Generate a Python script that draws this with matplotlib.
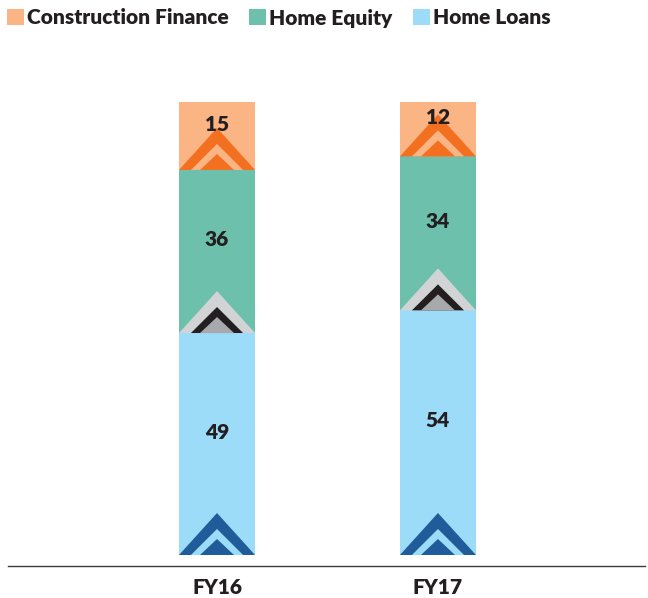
import matplotlib
matplotlib.use("Agg")
import matplotlib.pyplot as plt
from matplotlib.patches import Polygon, Patch
import numpy as np

# ---- data ----
periods = ["FY16", "FY17"]
series_names = ["Home Loans", "Home Equity", "Construction Finance"]
home_loans = [49, 54]
home_equity = [36, 34]
construction_finance = [15, 12]

# ---- style ----
bar_colors = ["#9ddcf9", "#6cc0ac", "#fbb584"]
# chevron colours (outer, middle, inner) per series
chev_colors = [
    ("#1f5c99", "#9ddcf9", "#1f5c99"),
    ("#d1d3d4", "#231f20", "#a7a9ac"),
    ("#f37021", "#fbb584", "#f37021"),
]
text_color = "#231f20"
plt.rcParams['font.family'] = ['Lato', 'DejaVu Sans']
FW = 'heavy'
FS = 15

fig = plt.figure(figsize=(6.48, 5.98), dpi=100)
ax = fig.add_axes([8/648, 32/598, 637/648, 464/598])

x = np.arange(len(periods))
width = 0.344
values = [home_loans, home_equity, construction_finance]
bottom = np.zeros(len(periods))

# chevron geometry (fractions of bar width / data units)
h_out, h_mid, h_in = 9.27, 5.74, 3.53
hw_out, hw_mid, hw_in = width / 2, 0.118, 0.077

for s, vals in enumerate(values):
    vals = np.array(vals, dtype=float)
    ax.bar(x, vals, width, bottom=bottom, color=bar_colors[s], linewidth=0, zorder=1)
    for i in range(len(periods)):
        b = bottom[i]
        cx = x[i]
        for (hw, h, col) in zip((hw_out, hw_mid, hw_in), (h_out, h_mid, h_in), chev_colors[s]):
            ax.add_patch(Polygon([(cx - hw, b), (cx, b + h), (cx + hw, b)],
                                 closed=True, facecolor=col, edgecolor='none', zorder=2))
        ax.text(cx, b + vals[i] / 2 + 2.6, f"{int(vals[i])}", ha='center', va='center',
                fontsize=FS, fontweight=FW, color=text_color, zorder=3)
    bottom += vals

ax.set_xlim(-0.946, 1.937)
ax.set_ylim(-2.43, 100)
ax.set_xticks(x)
ax.set_xticklabels(periods, fontsize=FS, fontweight=FW, color=text_color)
ax.tick_params(axis='x', length=0, pad=9)
ax.set_yticks([])
for sp in ['top', 'left', 'right']:
    ax.spines[sp].set_visible(False)
ax.spines['bottom'].set_color('#3a3a3a')
ax.spines['bottom'].set_linewidth(1.0)

handles = [Patch(facecolor=bar_colors[2], edgecolor='none'),
           Patch(facecolor=bar_colors[1], edgecolor='none'),
           Patch(facecolor=bar_colors[0], edgecolor='none')]
labels = [series_names[2], series_names[1], series_names[0]]
leg = fig.legend(handles, labels, loc='center left', bbox_to_anchor=(7/648, 1 - 18/598),
                 ncol=3, frameon=False, handlelength=0.8, handleheight=0.8,
                 handletextpad=0.15, columnspacing=1.0, borderpad=0, borderaxespad=0,
                 prop={'size': FS, 'weight': FW})
for t in leg.get_texts():
    t.set_color(text_color)

fig.savefig("out.png", dpi=100)
